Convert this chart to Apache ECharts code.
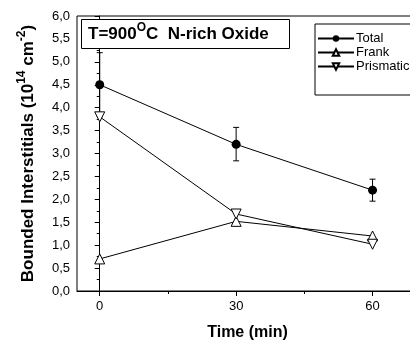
<!DOCTYPE html>
<html>
<head>
<meta charset="utf-8">
<script src="https://cdn.jsdelivr.net/npm/echarts@6/dist/echarts.min.js"></script>
<style>
  html, body { margin: 0; padding: 0; background: #fff; }
</style>
</head>
<body>
<div id="chart" style="width:410px;height:340px;"></div>
<script>
// data
var times = [0, 30, 60];
var total = [4.5, 3.2, 2.2];
var totalLow = [3.8, 2.84, 1.96];
var totalHigh = [5.2, 3.57, 2.44];
var frank = [0.7, 1.52, 1.2];
var prismatic = [3.8, 1.68, 1.02];
var xTicks = [0, 30, 60];
var xMinorTicks = [15, 45];

function pairs(ys) {
    return times.map(function (t, i) { return [t, ys[i]]; });
}
var errData = times.map(function (t, i) { return [t, totalLow[i], totalHigh[i]]; });

var font = '"Liberation Sans", Arial, sans-serif';

var chart = echarts.init(document.getElementById('chart'));
chart.setOption({
    animation: false,
    backgroundColor: '#fff',
    grid: {
        left: 77, top: 16, width: 341, height: 275,
        outerBoundsMode: 'none', containLabel: false,
        show: true, borderColor: '#000', borderWidth: 1
    },
    legend: {
        left: 315, top: 24,
        orient: 'vertical',
        data: ['Total', 'Frank', 'Prismatic'],
        itemWidth: 36, itemHeight: 8, itemGap: 1,
        padding: [8, 40, 22, 2],
        borderColor: '#000', borderWidth: 1,
        backgroundColor: '#fff',
        textStyle: { fontFamily: font, fontSize: 13, lineHeight: 13, color: '#000', padding: [0, 0, 0, -3] }
    },
    xAxis: [{
        type: 'value', min: -5, max: 70,
        name: 'Time (min)', nameLocation: 'middle', nameGap: 34,
        nameTextStyle: { fontFamily: font, fontSize: 16, fontWeight: 'bold', color: '#000' },
        splitLine: { show: false },
        axisLine: { lineStyle: { color: '#000' } },
        axisTick: { customValues: xTicks, length: 5, lineStyle: { color: '#000' } },
        axisLabel: { customValues: xTicks, fontFamily: font, fontSize: 13, color: '#000', margin: 9 }
    }, {
        type: 'value', min: -5, max: 70, position: 'bottom',
        splitLine: { show: false },
        axisLine: { show: false },
        axisTick: { customValues: xMinorTicks, length: 3, lineStyle: { color: '#000' } },
        axisLabel: { show: false }
    }],
    yAxis: {
        type: 'value', min: 0, max: 6, interval: 0.5,
        name: '{b|Bounded Interstitials (10}{s|14}{b| cm}{s|-2}{b|)}',
        nameLocation: 'middle', nameGap: 40, nameRotate: 90,
        nameTextStyle: {
            rich: {
                b: { fontFamily: font, fontSize: 17, fontWeight: 'bold', color: '#000', verticalAlign: 'bottom', lineHeight: 21 },
                s: { fontFamily: font, fontSize: 12, fontWeight: 'bold', color: '#000', verticalAlign: 'top', lineHeight: 21, padding: [0, 0, 7, 0] }
            }
        },
        splitLine: { show: false },
        axisLine: { lineStyle: { color: '#000' } },
        axisTick: { length: 5, lineStyle: { color: '#000' } },
        minorTick: { show: true, splitNumber: 2, length: 3, lineStyle: { color: '#000' } },
        axisLabel: {
            fontFamily: font, fontSize: 13, color: '#000', margin: 7,
            formatter: function (v) { return v.toFixed(1).replace('.', ','); }
        }
    },
    graphic: [{
        type: 'rect', left: 81, top: 19,
        shape: { width: 208, height: 29 },
        style: { fill: '#fff', stroke: '#000', lineWidth: 1 },
        z: 100
    }, {
        type: 'text', left: 88, top: 22,
        style: {
            text: '{b|T=900}{s|O}{b|C  N-rich Oxide}',
            rich: {
                b: { fontFamily: font, fontSize: 17, fontWeight: 'bold', fill: '#000', verticalAlign: 'bottom', lineHeight: 21 },
                s: { fontFamily: font, fontSize: 12, fontWeight: 'bold', fill: '#000', verticalAlign: 'top', lineHeight: 21, padding: [0, 0, 7, 0] }
            }
        },
        z: 101
    }],
    series: [{
        name: 'Total', type: 'line', data: pairs(total),
        symbol: 'circle', symbolSize: 9,
        lineStyle: { color: '#000', width: 1 },
        itemStyle: { color: '#000' }
    }, {
        name: 'Frank', type: 'line', data: pairs(frank),
        symbol: 'triangle', symbolSize: 10,
        lineStyle: { color: '#000', width: 1 },
        itemStyle: { color: '#fff', borderColor: '#000', borderWidth: 1 }
    }, {
        name: 'Prismatic', type: 'line', data: pairs(prismatic),
        symbol: 'triangle', symbolSize: 10, symbolRotate: 180,
        lineStyle: { color: '#000', width: 1 },
        itemStyle: { color: '#fff', borderColor: '#000', borderWidth: 1 }
    }, {
        name: 'err', type: 'custom', data: errData, z: 1,
        renderItem: function (params, api) {
            var x = api.value(0);
            var top = api.coord([x, api.value(2)]);
            var bot = api.coord([x, api.value(1)]);
            var w = 3;
            var st = { stroke: '#000', lineWidth: 1 };
            return {
                type: 'group', children: [
                    { type: 'line', shape: { x1: top[0], y1: top[1], x2: bot[0], y2: bot[1] }, style: st },
                    { type: 'line', shape: { x1: top[0] - w, y1: top[1], x2: top[0] + w, y2: top[1] }, style: st },
                    { type: 'line', shape: { x1: bot[0] - w, y1: bot[1], x2: bot[0] + w, y2: bot[1] }, style: st }
                ]
            };
        }
    }]
});
</script>
</body>
</html>
